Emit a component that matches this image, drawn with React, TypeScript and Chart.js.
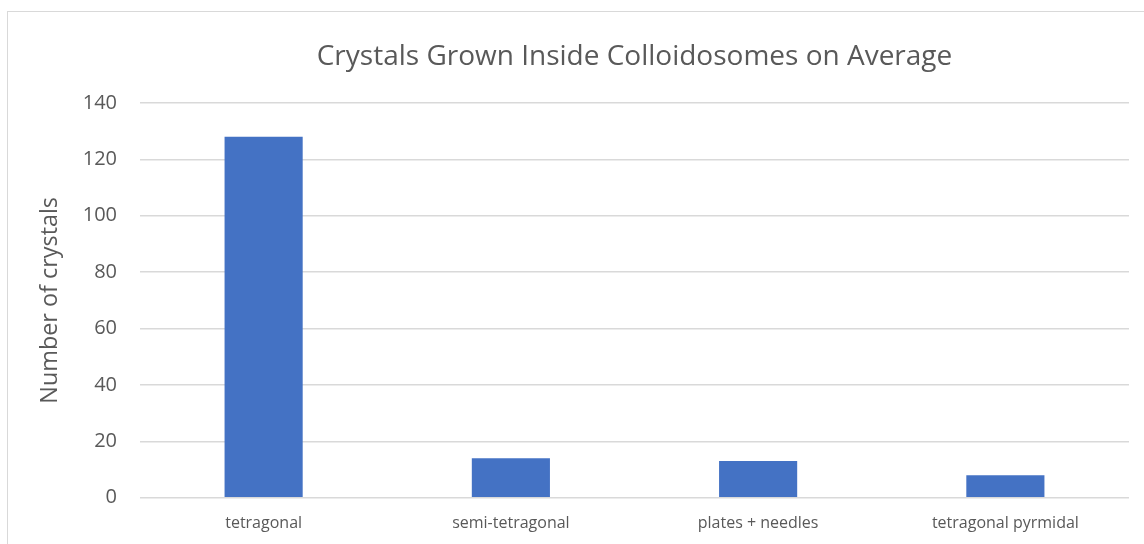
import React, { useEffect, useRef } from "react";
import { Chart, registerables } from "chart.js";

Chart.register(...registerables);

const categories = ["tetragonal", "semi-tetragonal", "plates + needles", "tetragonal pyrmidal"];
const crystalCounts = [128, 14, 13, 8];
const yTicks = [0, 20, 40, 60, 80, 100, 120, 140];
const chartTitle = "Crystals Grown Inside Colloidosomes on Average";
const yAxisTitle = "Number of crystals";

const TEXT = "#595959";
const GRID = "#d9d9d9";
const FONT = "'Open Sans', 'Noto Sans', sans-serif";

export default function App() {
  const ref = useRef<HTMLCanvasElement | null>(null);

  useEffect(() => {
    if (!ref.current) return;
    const chart = new Chart(ref.current, {
      type: "bar",
      data: {
        labels: categories,
        datasets: [
          {
            label: "Crystals",
            data: crystalCounts,
            backgroundColor: "#4472C4",
            borderWidth: 0,
            barPercentage: 0.316,
            categoryPercentage: 1,
          },
        ],
      },
      options: {
        responsive: false,
        animation: false,
        maintainAspectRatio: false,
        layout: { padding: { left: 0, right: 15, top: 0, bottom: 0 } },
        plugins: {
          legend: { display: false },
          tooltip: { enabled: false },
          title: {
            display: true,
            fullSize: false,
            text: chartTitle,
            color: TEXT,
            font: { family: FONT, size: 28, weight: "normal", lineHeight: 1.2 },
            padding: { top: 28.2, bottom: 29.2 },
          },
        },
        scales: {
          x: {
            grid: { display: false, drawTicks: false },
            border: { display: false },
            ticks: {
              color: TEXT,
              font: { family: FONT, size: 16, lineHeight: 1.2 },
              padding: 16.5,
              maxRotation: 0,
              autoSkip: false,
            },
            afterFit: (s: any) => {
              s.height = 46.3;
            },
          },
          y: {
            min: 0,
            max: 140,
            afterBuildTicks: (s: any) => {
              s.ticks = yTicks.map((v) => ({ value: v }));
            },
            grid: { color: GRID, lineWidth: 1.5, drawTicks: false },
            border: { display: false },
            ticks: {
              color: TEXT,
              font: { family: FONT, size: 20, lineHeight: 1.2 },
              padding: 23,
            },
            title: {
              display: true,
              text: yAxisTitle,
              color: TEXT,
              font: { family: FONT, size: 23.4, lineHeight: 1.2 },
              padding: { top: 28, bottom: 0 },
            },
            afterFit: (s: any) => {
              s.width = 132;
            },
          },
        },
      },
    });
    return () => chart.destroy();
  }, []);

  return (
    <div
      style={{
        position: "absolute",
        left: 7,
        top: 11,
        width: 1137,
        height: 533,
        borderLeft: "1px solid #d9d9d9",
        borderTop: "1px solid #d9d9d9",
        background: "#fff",
        overflow: "hidden",
      }}
    >
      <canvas ref={ref} width={1136} height={532} style={{ display: "block" }} />
    </div>
  );
}
